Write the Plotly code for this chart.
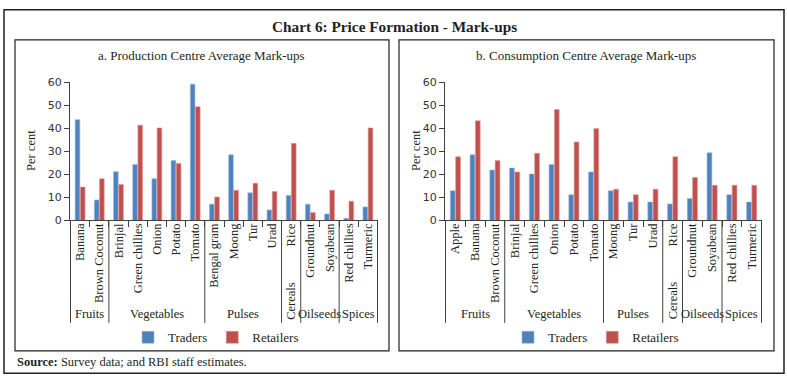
import plotly.graph_objects as go

# ---------------- data ----------------
a_categories = ["Banana", "Brown Coconut", "Brinjal", "Green chillies", "Onion", "Potato", "Tomato",
                "Bengal gram", "Moong", "Tur", "Urad", "Rice", "Groundnut", "Soyabean",
                "Red chillies", "Turmeric"]
a_groups = ["Fruits", "Vegetables", "Pulses", "Cereals", "Oilseeds", "Spices"]
a_group_sizes = [2, 5, 4, 1, 2, 2]
a_traders = [43.8, 8.9, 21.2, 24.3, 18.1, 26.1, 59.2, 7.1, 28.5, 12.0, 4.6, 10.9, 7.1, 2.8, 1.0, 5.9]
a_retailers = [14.5, 18.1, 15.6, 41.4, 40.2, 24.8, 49.4, 10.2, 13.1, 16.2, 12.6, 33.5, 3.5, 13.1, 8.4, 40.2]

b_categories = ["Apple", "Banana", "Brown Coconut", "Brinjal", "Green chillies", "Onion", "Potato",
                "Tomato", "Moong", "Tur", "Urad", "Rice", "Groundnut", "Soyabean",
                "Red chillies", "Turmeric"]
b_groups = ["Fruits", "Vegetables", "Pulses", "Cereals", "Oilseeds", "Spices"]
b_group_sizes = [3, 5, 3, 1, 2, 2]
b_traders = [12.9, 28.5, 21.9, 22.8, 20.2, 24.3, 11.2, 21.1, 12.9, 8.0, 8.0, 7.2, 9.6, 29.4, 11.2, 8.0]
b_retailers = [27.7, 43.3, 26.0, 21.1, 29.2, 48.2, 34.1, 39.9, 13.6, 11.2, 13.6, 27.7, 18.7, 15.3, 15.3, 15.3]

y_ticks = [0, 10, 20, 30, 40, 50, 60]

# ---------------- styling helpers ----------------
W, H = 787, 384
def px_x(v):
    return v / W
def px_y(v):
    return 1 - v / H

SERIF = "Liberation Serif"
BLUE = "#4F81BD"
RED = "#C0504D"
TXT = "#231F20"

fig = go.Figure()

panels = [
    ("x", "y", "legend", a_categories, a_traders, a_retailers, a_groups, a_group_sizes),
    ("x2", "y2", "legend2", b_categories, b_traders, b_retailers, b_groups, b_group_sizes),
]
for xa, ya, lg, cats, tr, rt, grps, sizes in panels:
    fig.add_trace(go.Bar(x=cats, y=tr, name="Traders", xaxis=xa, yaxis=ya, legend=lg,
                         marker=dict(color=BLUE, line=dict(color="#9AB6DE", width=0.6))))
    fig.add_trace(go.Bar(x=cats, y=rt, name="Retailers", xaxis=xa, yaxis=ya, legend=lg,
                         marker=dict(color=RED, line=dict(color="#E09896", width=0.6))))

axis_common_x = dict(type="category", showline=True, linecolor="#404040", linewidth=1,
                     ticks="outside", tickson="boundaries", ticklen=6, tickcolor="#404040",
                     tickangle=-90, tickfont=dict(family=SERIF, size=12.5, color=TXT),
                     showgrid=False, zeroline=False, ticklabelstandoff=-3)
axis_common_y = dict(range=[0, 60], tickvals=y_ticks, showline=True, linecolor="#404040",
                     linewidth=1, ticks="outside", ticklen=5, tickcolor="#404040",
                     tickfont=dict(family="DejaVu Sans", size=11, color="#333333"),
                     showgrid=False, zeroline=False)

legend_common = dict(orientation="h", xanchor="left", yanchor="middle",
                     font=dict(family=SERIF, size=13, color=TXT), bgcolor="rgba(0,0,0,0)",
                     itemwidth=30)

y_dom = [px_y(222), px_y(79)]
fig.update_layout(
    width=W, height=H, margin=dict(l=0, r=0, t=0, b=0),
    paper_bgcolor="white", plot_bgcolor="white",
    barmode="group", bargap=0.46, bargroupgap=0.1,
    xaxis=dict(domain=[px_x(70), px_x(378)], anchor="y", **axis_common_x),
    yaxis=dict(domain=y_dom, anchor="x", **axis_common_y),
    xaxis2=dict(domain=[px_x(445), px_x(762)], anchor="y2", **axis_common_x),
    yaxis2=dict(domain=y_dom, anchor="x2", **axis_common_y),
    legend=dict(x=px_x(128), y=px_y(343), **legend_common),
    legend2=dict(x=px_x(508), y=px_y(343), **legend_common),
    showlegend=True,
)

shapes = []
# outer frame and panel frames
shapes.append(dict(type="rect", xref="paper", yref="paper", x0=px_x(4), x1=px_x(784),
                   y0=px_y(380), y1=px_y(4), line=dict(color="#231F20", width=1.5)))
shapes.append(dict(type="rect", xref="paper", yref="paper", x0=px_x(15), x1=px_x(389),
                   y0=px_y(357), y1=px_y(35), line=dict(color="#231F20", width=1.2)))
shapes.append(dict(type="rect", xref="paper", yref="paper", x0=px_x(399), x1=px_x(774),
                   y0=px_y(357), y1=px_y(35), line=dict(color="#231F20", width=1.2)))

annotations = []
def ann(text, xref, x, y, size=12.5, angle=0, xanchor="center"):
    annotations.append(dict(text=text, xref=xref, yref="paper", x=x, y=y, showarrow=False,
                            textangle=angle, xanchor=xanchor, yanchor="middle",
                            font=dict(family=SERIF, size=size, color=TXT)))

for xa, ya, lg, cats, tr, rt, grps, sizes in panels:
    start = 0
    bounds = [-0.5]
    for g, s in zip(grps, sizes):
        center = start + (s - 1) / 2
        if s == 1:
            ann(g, xa, center, px_y(305), angle=-90)
        else:
            ann(g, xa, center, px_y(319))
        start += s
        bounds.append(start - 0.5)
    for b in bounds:
        shapes.append(dict(type="line", xref=xa, yref="paper", x0=b, x1=b,
                           y0=px_y(222), y1=px_y(328), line=dict(color="#404040", width=1)))

# titles
ann("<b>Chart 6: Price Formation - Mark-ups</b>", "paper", px_x(395), px_y(21), size=15.3)
ann("a. Production Centre Average Mark-ups", "paper", px_x(202), px_y(51), size=13)
ann("b. Consumption Centre Average Mark-ups", "paper", px_x(586), px_y(51), size=13)
ann("Per cent", "paper", px_x(31), px_y(150), angle=-90)
ann("Per cent", "paper", px_x(416), px_y(150), angle=-90)
ann("<b>Source:</b> Survey data; and RBI staff estimates.", "paper", px_x(15), px_y(368),
    xanchor="left")

fig.update_layout(shapes=shapes, annotations=annotations)
fig.write_html("out.html", config={"displayModeBar": False},
               post_script="document.body.style.margin='0px';")
